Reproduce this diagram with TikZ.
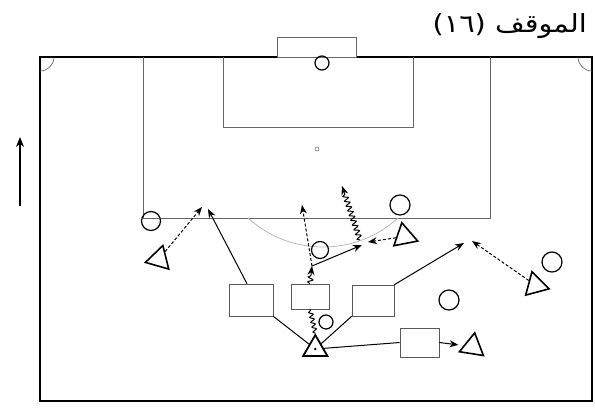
\documentclass[tikz,border=0pt]{standalone}
\usepackage{fontspec}
\usepackage{graphicx}
\usetikzlibrary{arrows.meta,shapes.geometric,decorations.pathmorphing}
\newfontfamily\arabicfont[Script=Arabic]{DejaVu Sans}
\newfontfamily\digitfont{DejaVu Sans}
\TeXXeTstate=1

\begin{document}
\begin{tikzpicture}[x=1pt, y=-1pt,
  field/.style={draw=black!60, line width=0.7pt},
  opp/.style={circle, draw, line width=1.2pt, minimum size=19pt, inner sep=0pt},
  mate/.style={regular polygon, regular polygon sides=3, draw, line width=1.6pt, minimum size=28pt, inner sep=0pt},
  wall/.style={rectangle, draw=black!65, line width=0.6pt, inner sep=0pt},
  link/.style={line width=1pt},
  pass/.style={link, -{Stealth[length=9pt,width=7pt]}},
  run/.style={pass, dash pattern=on 3pt off 2pt},
  dribble/.style={pass, decorate, decoration={snake, amplitude=2.5pt, segment length=5pt, post length=8pt}}]
  \useasboundingbox (0,0) rectangle (595,418);
  % pitch
  \draw[line width=2.2pt] (277,57) -- (40,57) -- (40,401) -- (592,401) -- (592,57) -- (356,57);
  \draw[field] (277,57) rectangle (356,37);
  \draw[field] (143,57) -- (143,218) -- (490,218) -- (490,57);
  \draw[field] (223,57) -- (223,127) -- (413,127) -- (413,57);
  \draw[draw=black!30, line width=0.7pt] (248,218) arc[start angle=132.3, end angle=47.7, radius=111.5];
  \draw[field] (40,71) arc[start angle=90, end angle=0, radius=14];
  \draw[field] (578,57) arc[start angle=180, end angle=90, radius=14];
  \node[circle, draw=black!60, minimum size=4pt, inner sep=0pt, line width=0.5pt] (spot) at (317,149) {};
  \node[anchor=base east, inner sep=0pt] (title) at (587,32)
    {\scalebox{1.15}[1]{\fontsize{25}{30}\selectfont\arabicfont\beginR الموقف \beginL\digitfont(١٦)\endL\endR}};
  % direction of play
  \coordinate (u0) at (20,206);
  \coordinate (u1) at (20,137);
  \draw[link, line width=1.1pt, -{Stealth[length=10pt,width=8pt]}] (u0) -- (u1);
  % players
  \node[opp, minimum size=14pt] (gk) at (322,63) {};
  \node[opp] (c1) at (151,221) {};
  \node[opp, minimum size=20pt] (c2) at (400,205) {};
  \node[opp, minimum size=17pt] (c3) at (320,250) {};
  \node[opp, minimum size=14pt] (c4) at (326,322) {};
  \node[opp, minimum size=20pt] (c5) at (449,300) {};
  \node[opp, minimum size=20pt] (c6) at (552,262) {};
  \node[mate, rotate=-16] (t1) at (159,259) {};
  \node[mate, rotate=11] (t2) at (404.5,236.5) {};
  \node[mate, rotate=15] (t3) at (535.6,285.2) {};
  \node[mate, rotate=-9] (t4) at (472.5,346.7) {};
  \node[mate, line width=1.8pt] (t5) at (315.3,349) {};
  \fill (t5) circle (1.4);
  % walls
  \node[wall, minimum width=44pt, minimum height=32pt] (b1) at (251,300) {};
  \node[wall, minimum width=38pt, minimum height=25pt] (b2) at (310,296.5) {};
  \node[wall, minimum width=42pt, minimum height=31pt] (b3) at (373,300.5) {};
  \node[wall, minimum width=39pt, minimum height=29pt] (b4) at (419.5,342.5) {};
  % moves
  \coordinate (a1) at (202,207);
  \coordinate (a2) at (208,209);
  \coordinate (a3) at (464,243);
  \coordinate (a4) at (472,241);
  \coordinate (p1) at (312,266);
  \coordinate (a5) at (302,205);
  \coordinate (a6) at (362,245);
  \coordinate (a7) at (368,242);
  \coordinate (d1) at (360,240);
  \coordinate (a8) at (342,186);
  \draw[run] (t1) -- (a1);
  \draw[link] (t5) -- (b1.south east);
  \draw[pass] ([xshift=-4pt]b1.north) -- (a2);
  \draw[link] (t5) -- (b3.south west);
  \draw[pass] (b3.north east) -- (a3);
  \draw[run] (t3) -- (a4);
  \draw[link] (t5) -- (b4.west);
  \draw[pass, shorten >=5pt] (b4.east) -- (t4);
  \draw[link, decorate, decoration={snake, amplitude=2pt, segment length=5pt}] (t5.corner 1) -- (b2.south);
  \draw[dribble, decoration={post length=9pt}] (b2.north) -- (p1);
  \draw[run] (p1) -- (a5);
  \draw[pass] (p1) -- (a6);
  \draw[run] (t2) -- (a7);
  \draw[dribble] (d1) -- (a8);
\end{tikzpicture}
\end{document}
